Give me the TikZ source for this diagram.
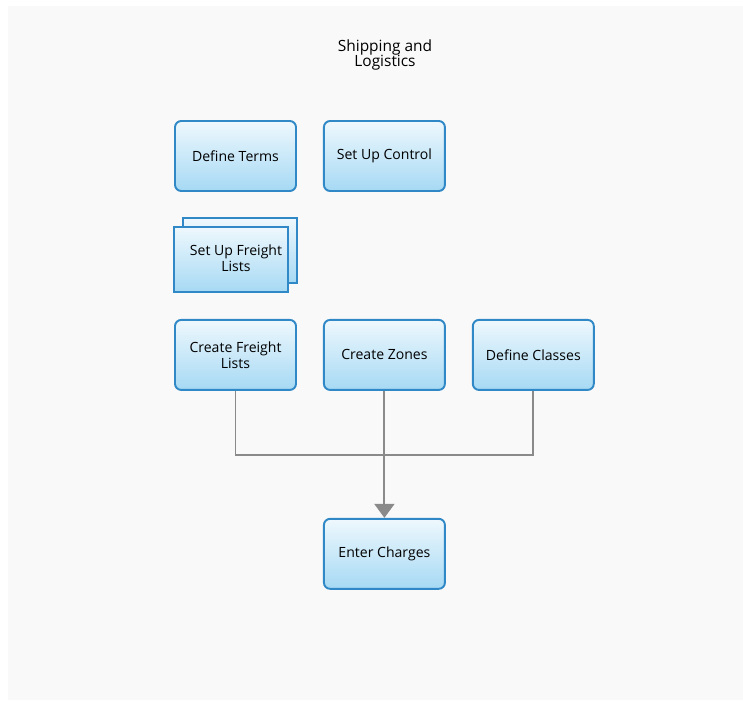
\documentclass[tikz,border=0pt]{standalone}
\usepackage{fontspec}
\setmainfont{Open Sans}
\usepackage{xcolor}
\usetikzlibrary{arrows.meta, positioning, shadows}
\definecolor{C_EDGE}{HTML}{3089C6}
\definecolor{C_TOP}{HTML}{EEF8FD}
\definecolor{C_BOT}{HTML}{A6D9F4}
\definecolor{C_LINK}{HTML}{8A8A8A}
\definecolor{C_BACK}{HTML}{F9F9F9}

\begin{document}
\begin{tikzpicture}[
  x=0.02cm, y=-0.02cm,
  node distance=0.52cm and 0.52cm,
  task/.style={draw=C_EDGE, line width=1.1pt, rounded corners=3.5pt,
               top color=C_TOP, bottom color=C_BOT, minimum width=2.42cm,
               minimum height=1.40cm, font=\fontsize{8}{9}\selectfont,
               align=center, inner sep=2pt},
  stack/.style={draw=C_EDGE, line width=1.1pt, top color=C_TOP, bottom color=C_BOT,
                minimum width=2.28cm, minimum height=1.30cm,
                font=\fontsize{8}{9}\selectfont, align=center, inner sep=2pt,
                copy shadow={draw=C_EDGE, line width=1.1pt, top color=C_TOP,
                             bottom color=C_BOT, shadow xshift=0.18cm,
                             shadow yshift=0.18cm, opacity=1}},
  title/.style={font=\fontsize{8.8}{8.6}\selectfont, align=center},
  link/.style={draw=C_LINK, line width=1.1pt},
  flow/.style={link, -{Triangle[width=0.4cm, length=0.28cm]}},
]
%% Frame
\fill[C_BACK] (8,6) rectangle (743,700);
\useasboundingbox (0,0) rectangle (743,700);

%% Title
\node[title] (head) at (385,55) {Shipping and\\Logistics};

%% Setup row
\node[task] (terms) at (235.5,156) {Define Terms};
\node[task, right=of terms] (control) {Set Up Control};

%% Freight list stack
\node[stack] (setlists) at (231,259.5) {\hspace*{0.2cm}Set Up Freight\\\hspace*{0.2cm}Lists\\[-0.25cm]};

%% Create row
\node[task, below=0.52cm of setlists.south -| terms, anchor=north] (mklists) {Create Freight\\Lists};
\node[task, right=of mklists] (zones)   {Create Zones};
\node[task, right=of zones]   (classes) {Define Classes};

%% Result
\node[task, below=2.54cm of zones] (charges) {Enter Charges};

%% Connectors
\coordinate[below=1.28cm of zones.south] (join);
\draw[link] (mklists.south) |- (join) -| (classes.south);
\draw[flow] (zones) -- (charges);

\end{tikzpicture}
\end{document}
